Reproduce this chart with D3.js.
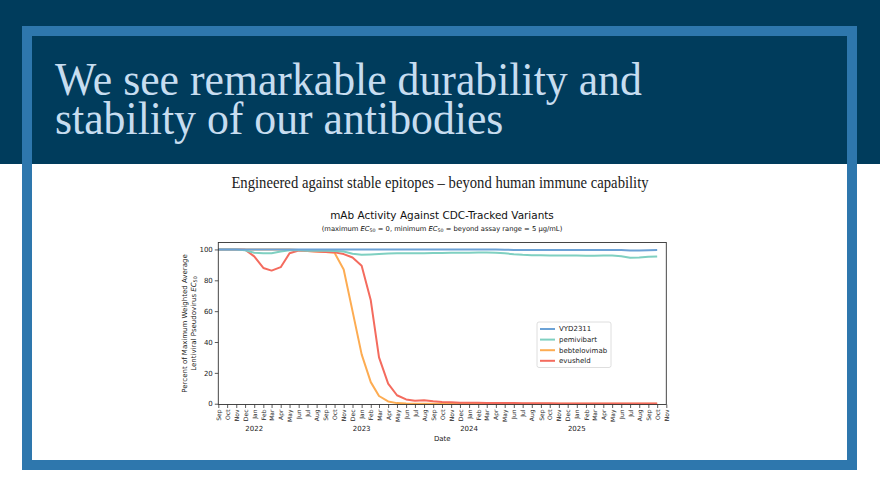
<!DOCTYPE html>
<html><head><meta charset="utf-8">
<script src="https://cdn.jsdelivr.net/npm/d3@7"></script>
<style>body{margin:0;background:#fff}svg{display:block}</style>
</head><body>
<svg id="c" width="880" height="495"></svg>
<script>
// ---- data ----
const months = [
 "2021-09","2021-10","2021-11","2021-12",
 "2022-01","2022-02","2022-03","2022-04","2022-05","2022-06","2022-07","2022-08","2022-09","2022-10","2022-11","2022-12",
 "2023-01","2023-02","2023-03","2023-04","2023-05","2023-06","2023-07","2023-08","2023-09","2023-10","2023-11","2023-12",
 "2024-01","2024-02","2024-03","2024-04","2024-05","2024-06","2024-07","2024-08","2024-09","2024-10","2024-11","2024-12",
 "2025-01","2025-02","2025-03","2025-04","2025-05","2025-06","2025-07","2025-08","2025-09","2025-10"];
const vyd2311 = [100,100,100,100,
 100,100,100,100,100,100,100,100,100,100,100,100,
 100,100,100,100,100,100,100,100,100,100,100,100,
 100,100,100,99.9,99.8,99.7,99.7,99.6,99.6,99.6,99.6,99.6,
 99.6,99.6,99.7,99.7,99.7,99.6,99.3,99.3,99.5,99.6];
const pemivibart = [100,100,100,99.4,
 97.8,97.5,97.6,98.6,99.4,99.4,99.2,99.1,99.1,99.0,98.7,97.2,
 96.5,96.8,97.1,97.3,97.5,97.6,97.6,97.6,97.7,97.7,97.8,97.8,
 97.9,98.0,98.0,97.9,97.5,96.9,96.5,96.3,96.2,96.1,96.0,96.0,
 96.0,95.9,95.9,96.0,96.0,95.6,94.6,94.8,95.2,95.4];
const bebtelovimab = [100,100,100,100,
 100,100,100,100,100,99.6,99.0,98.6,98.3,97.8,87.0,60.0,
 32.0,14.0,5.0,1.5,0.4,0.1,0,0,0,0,0,0,
 0,0,0,0,0,0,0,0,0,0,0,0,
 0,0,0,0,0,0,0,0,0,0];
const evusheld = [100,100,100,99.8,
 95.5,88.0,86.3,88.5,97.5,99.3,99.0,98.6,98.3,98.1,97.0,94.8,
 89.5,67.0,30.0,13.0,5.5,2.8,1.9,2.3,1.6,1.1,0.9,0.7,
 0.6,0.6,0.5,0.5,0.4,0.4,0.3,0.3,0.3,0.3,0.2,0.2,
 0.2,0.2,0.2,0.2,0.2,0.1,0.1,0.1,0.1,0.1];
const seriesNames = ["VYD2311","pemivibart","bebtelovimab","evusheld"];
const seriesColors = ["#6ca2d6","#7fd0c1","#fdac52","#f46b5e"];
const yTicks = [0,20,40,60,80,100];
const yearLabels = ["2022","2023","2024","2025"];
const titleLines = ["We see remarkable durability and","stability of our antibodies"];

// ---- drawing ----
const svg = d3.select("#c");
function fit(sel, w){ const l = sel.node().getComputedTextLength(); const fs = parseFloat(sel.attr("font-size")); sel.attr("font-size", fs*w/l); }

// slide background
svg.append("rect").attr("x",0).attr("y",0).attr("width",880).attr("height",495).attr("fill","#ffffff");
svg.append("rect").attr("x",0).attr("y",0).attr("width",880).attr("height",164).attr("fill","#003c5c");
svg.append("rect").attr("x",27).attr("y",31).attr("width",825).attr("height",434)
  .attr("fill","none").attr("stroke","#2e77ad").attr("stroke-width",10);

const SERIF = "Liberation Serif, Times New Roman, serif";
// measure title size from first line
const probe = svg.append("text").attr("font-family",SERIF).attr("font-size",42).text(titleLines[0]);
fit(probe, 587);
const tfs = probe.attr("font-size"); probe.remove();
const title = svg.append("text").attr("transform","translate(55,95) scale(1,1.08)").attr("font-family",SERIF)
  .attr("font-size",tfs).attr("fill","#c7ddf0");
title.append("tspan").attr("x",0).attr("y",0).text(titleLines[0]);
title.append("tspan").attr("x",0).attr("y",36).text(titleLines[1]);

const st = svg.append("text").attr("transform","translate(440,188) scale(1,1.1)").attr("text-anchor","middle")
  .attr("font-family",SERIF).attr("font-size",16).attr("fill","#1a1a1a")
  .text("Engineered against stable epitopes \u2013 beyond human immune capability");
fit(st, 417);

// chart titles
const FF = "DejaVu Sans, sans-serif";
const ct = svg.append("text").attr("x",442).attr("y",219).attr("text-anchor","middle").attr("font-family",FF)
  .attr("font-size",11).attr("fill","#111").text("mAb Activity Against CDC-Tracked Variants");
fit(ct, 224);
const cs = svg.append("text").attr("x",442).attr("y",231).attr("text-anchor","middle").attr("font-family",FF)
  .attr("font-size",7).attr("fill","#111");
cs.append("tspan").text("(maximum ");
cs.append("tspan").attr("font-style","italic").text("EC");
cs.append("tspan").attr("font-size","0.7em").attr("dy","0.3em").text("50");
cs.append("tspan").attr("dy","-0.21em").text(" = 0, minimum ");
cs.append("tspan").attr("font-style","italic").text("EC");
cs.append("tspan").attr("font-size","0.7em").attr("dy","0.3em").text("50");
cs.append("tspan").attr("dy","-0.21em").text(" = beyond assay range = 5 \u03bcg/mL)");
fit(cs, 241);

// scales
const parse = d3.timeParse("%Y-%m");
const dates = months.map(parse);
const L = 218.3, R = 666.3, T = 242.5, B = 404.5;
const x = d3.scaleTime().domain([new Date(2021,8,1), new Date(2025,10,1)]).range([L,R]);
const y = d3.scaleLinear().domain([-0.5,104.5]).range([B,T]);

// lines (blue on top)
const seriesData = [vyd2311, pemivibart, bebtelovimab, evusheld];
const line = d3.line().x((d,i)=>x(dates[i])).y(d=>y(d));
const order = [2,3,1,0];
const g = svg.append("g");
order.forEach(k=>{
  g.append("path").datum(seriesData[k]).attr("d",line).attr("fill","none")
   .attr("stroke",seriesColors[k]).attr("stroke-width",2).attr("stroke-linejoin","round");
});

// spines
svg.append("rect").attr("x",L).attr("y",T).attr("width",R-L).attr("height",B-T)
  .attr("fill","none").attr("stroke","#333").attr("stroke-width",0.9);

// y axis
const ya = svg.append("g").attr("transform",`translate(${L},0)`)
  .call(d3.axisLeft(y).tickValues(yTicks).tickSize(3.5).tickPadding(2));
ya.select(".domain").remove();
ya.selectAll("text").attr("font-family",FF).attr("font-size",7).attr("fill","#222");
ya.selectAll("line").attr("stroke","#333").attr("stroke-width",0.8);

// x axis
const xa = svg.append("g").attr("transform",`translate(0,${B})`)
  .call(d3.axisBottom(x).ticks(d3.timeMonth.every(1)).tickFormat(d3.timeFormat("%b")).tickSize(3.5));
xa.select(".domain").remove();
xa.selectAll("line").attr("stroke","#333").attr("stroke-width",0.8);
xa.selectAll("text").attr("font-family",FF).attr("font-size",6).attr("fill","#222")
  .attr("transform","rotate(-90)").attr("text-anchor","end").attr("x",-5).attr("y",0).attr("dy","0.35em");

// year labels
svg.append("g").selectAll("text").data(yearLabels).join("text")
  .attr("x",d=>x(new Date(+d,0,1))).attr("y",431).attr("text-anchor","middle")
  .attr("font-family",FF).attr("font-size",7).attr("fill","#222").text(d=>d);
svg.append("text").attr("x",(L+R)/2).attr("y",441).attr("text-anchor","middle")
  .attr("font-family",FF).attr("font-size",7).attr("fill","#222").text("Date");

// y label
const yl = svg.append("text").attr("transform",`translate(187,${(T+B)/2}) rotate(-90)`).attr("text-anchor","middle")
  .attr("font-family",FF).attr("font-size",7).attr("fill","#222");
yl.append("tspan").attr("x",0).attr("y",0).text("Percent of Maximum Weighted Average");
const yl2 = yl.append("tspan").attr("x",0).attr("y",8.5);
yl2.append("tspan").text("Lentiviral Pseudovirus ");
yl2.append("tspan").attr("font-style","italic").text("EC");
yl2.append("tspan").attr("font-size","0.7em").attr("dy","0.3em").text("50");

// legend
const lg = svg.append("g");
lg.append("rect").attr("x",537).attr("y",322).attr("width",74).attr("height",45.5).attr("rx",2)
  .attr("fill","#fff").attr("fill-opacity",0.85).attr("stroke","#d6d6d6").attr("stroke-width",0.8);
seriesNames.forEach((n,i)=>{
  const yy = 329 + i*10.6;
  lg.append("line").attr("x1",540).attr("x2",555).attr("y1",yy).attr("y2",yy)
    .attr("stroke",seriesColors[i]).attr("stroke-width",2);
  lg.append("text").attr("x",559).attr("y",yy).attr("dy","0.35em").attr("font-family",FF)
    .attr("font-size",7).attr("fill","#222").text(n);
});
</script>
</body></html>
